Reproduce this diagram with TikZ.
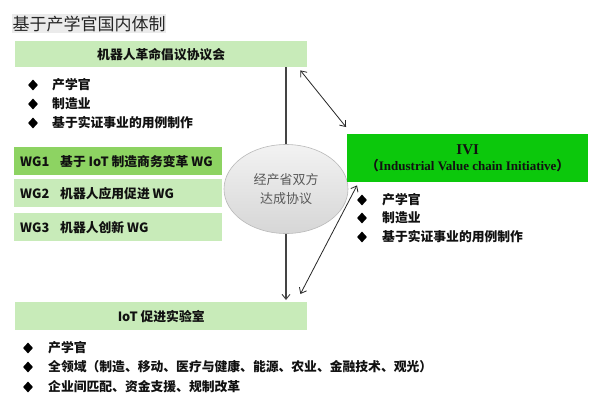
\documentclass[tikz,border=0pt]{standalone}
\usepackage{fontspec}
\setmainfont{Noto Sans CJK SC}
\newfontfamily\serifb{Liberation Serif}
\usetikzlibrary{arrows.meta,shapes.geometric}
\definecolor{lgreen}{HTML}{C8EBB9}
\definecolor{mgreen}{HTML}{8DD362}
\definecolor{bgreen}{HTML}{0CC80C}
\definecolor{titlebg}{HTML}{EBEBEB}
\definecolor{txt}{HTML}{111111}
\definecolor{linec}{HTML}{444444}
\tikzset{
  boxlabel/.style={font=\fontsize{12.8}{15}\selectfont\bfseries, text=txt},
  gbox/.style={boxlabel, fill=lgreen, anchor=north west, inner sep=0pt},
  wgbox/.style={boxlabel, anchor=north west, inner xsep=0pt, inner ysep=0pt,
                minimum width=208pt, minimum height=28pt},
  dia/.style={diamond, fill=black, inner sep=0pt, minimum width=10pt, minimum height=11pt},
  btext/.style={font=\fontsize{12.8}{15}\selectfont\bfseries, text=txt, anchor=west, inner sep=0pt},
  vline/.style={draw=linec, line width=1.4pt},
  darr/.style={draw=black!85, line width=0.8pt, {Straight Barb[length=5pt,width=8pt]}-{Straight Barb[length=5pt,width=8pt]}},
  downarr/.style={vline, -{Straight Barb[length=5pt,width=8pt,line width=0.9pt]}}
}
\newcommand{\wgline}[2]{\makebox[196pt][l]{\makebox[40pt][l]{#1}#2}}
\begin{document}
\begin{tikzpicture}[x=1pt,y=-1pt]
\useasboundingbox[fill=white] (0,0) rectangle (600,402);

% title
\node[fill=titlebg, anchor=north west, minimum width=154pt, minimum height=19pt, inner sep=0pt,
      font=\fontsize{17}{19}\selectfont, text=black!85] (title) at (12,14) {基于产学官国内体制};

% top box
\node[gbox, minimum width=292pt, minimum height=26pt] (top) at (15,41) {机器人革命倡议协议会};
\node[dia] (d1) at (33,85) {};
\node[btext] (t1) at (52,85) {产学官};
\node[dia] (d2) at (33,104) {};
\node[btext] (t2) at (52,104) {制造业};
\node[dia] (d3) at (33,123) {};
\node[btext] (t3) at (52,123) {基于实证事业的用例制作};

% WG boxes
\node[wgbox, fill=mgreen] (wg1) at (14,147) {\wgline{WG1}{基于 IoT 制造商务变革 WG}};
\node[wgbox, fill=lgreen] (wg2) at (14,179) {\wgline{WG2}{机器人应用促进 WG}};
\node[wgbox, fill=lgreen] (wg3) at (14,213) {\wgline{WG3}{机器人创新 WG}};

% ellipse
\node[ellipse, minimum width=124pt, minimum height=89pt, draw=gray!55, line width=0.6pt,
      top color=gray!10, bottom color=gray!32, align=center, text=black!65,
      font=\fontsize{13}{19}\selectfont] (ell) at (286,189) {经产省双方\\达成协议};

% IVI box
\node[fill=bgreen, anchor=north west, minimum width=241pt, minimum height=48pt, inner sep=0pt,
      align=center, text=txt, font=\serifb\bfseries] (ivi) at (347,134)
  {{\fontsize{15}{19}\selectfont IVI}\\[4pt]{\fontsize{13}{15}\selectfont{\normalfont\bfseries\fontsize{13}{15}\selectfont （}Industrial Value chain Initiative{\normalfont\bfseries\fontsize{13}{15}\selectfont ）}}};
\node[dia] (d4) at (362,200) {};
\node[btext] (t4) at (382,200) {产学官};
\node[dia] (d5) at (362,218) {};
\node[btext] (t5) at (382,218) {制造业};
\node[dia] (d6) at (362,237) {};
\node[btext] (t6) at (382,237) {基于实证事业的用例制作};

% IoT box
\node[gbox, minimum width=292pt, minimum height=28pt] (iot) at (15,302) {IoT 促进实验室};
\node[dia] (d7) at (28,348) {};
\node[btext] (t7) at (48,348) {产学官};
\node[dia] (d8) at (28,367) {};
\node[btext] (t8) at (48,367) {全领域（制造、移动、医疗与健康、能源、农业、金融技术、观光）};
\node[dia] (d9) at (28,387) {};
\node[btext] (t9) at (48,387) {企业间匹配、资金支援、规制改革};

% connectors
\draw[vline] (ell.north |- top.south) -- (ell.north);
\draw[downarr] (ell.south) -- ([yshift=2pt]ell.south |- iot.north);
\draw[darr] ([xshift=-7pt,yshift=-3pt]top.south east) -- ([xshift=-1pt,yshift=7pt]ivi.north west);
\draw[darr] ([xshift=10pt,yshift=-3pt]ivi.south west) -- ([xshift=-7pt,yshift=8pt]iot.north east);
\end{tikzpicture}
\end{document}
